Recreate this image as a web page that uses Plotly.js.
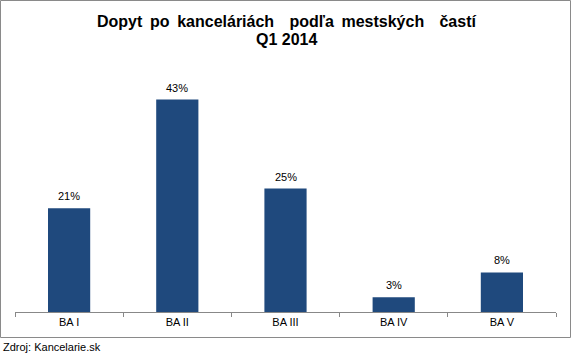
<!DOCTYPE html>
<html>
<head>
<meta charset="utf-8">
<script src="https://cdn.plot.ly/plotly-3.0.1.min.js"></script>
<style>html,body{margin:0;padding:0;background:#fff;}#chart{width:572px;height:354px;}</style>
</head>
<body>
<div id="chart"></div>
<script>
const categories = ["BA I", "BA II", "BA III", "BA IV", "BA V"];
const values = [21, 43, 25, 3, 8];
const valueLabels = ["21%", "43%", "25%", "3%", "8%"];
const titleLines = ["Dopyt po kanceláriách  podľa mestských  častí", "Q1 2014"];
const sourceText = "Zdroj: Kancelarie.sk";

const W = 572, H = 354;
const m = {l: 15, r: 16, t: 65, b: 42};
const pw = W - m.l - m.r, ph = H - m.t - m.b;
const px = x => (x - m.l) / pw;
const py = y => (H - m.b - y) / ph;
const FONT = "Arial, Liberation Sans, sans-serif";

const trace = {
  type: "bar",
  x: categories,
  y: values,
  marker: {color: "#1F497D"},
  hoverinfo: "none"
};

const valueAnnotations = categories.map((c, i) => ({
  text: valueLabels[i], xref: "x", yref: "y",
  x: c, y: values[i], yshift: 12, xanchor: "center", yanchor: "middle",
  showarrow: false, font: {size: 11, family: FONT, color: "#000"}
}));

const titleAnnotations = titleLines.map((t, i) => ({
  text: "<b>" + (i === 0 ? t.replace(/ /g, " \u2009") : t) + "</b>",
  xref: "paper", yref: "paper",
  x: px(286), y: py(21 + i * 18.5), xanchor: "center", yanchor: "middle",
  showarrow: false, font: {size: 16, family: FONT, color: "#000"}
}));

const layout = {
  width: W, height: H,
  margin: m,
  paper_bgcolor: "#fff",
  plot_bgcolor: "#fff",
  showlegend: false,
  bargap: 0.61,
  font: {family: FONT, color: "#000"},
  xaxis: {
    showline: true, linecolor: "#888", linewidth: 1,
    ticks: "outside", ticklen: 4, tickcolor: "#888",
    tickson: "boundaries",
    tickfont: {size: 11, color: "#000"},
    showgrid: false, zeroline: false, fixedrange: true
  },
  yaxis: {
    range: [0, 50], visible: false, showgrid: false, zeroline: false, fixedrange: true
  },
  shapes: [{
    type: "rect", xref: "paper", yref: "paper",
    x0: px(0.5), x1: px(570.5), y0: py(337.5), y1: py(0.5),
    line: {color: "#8a8a8a", width: 1}
  }],
  annotations: titleAnnotations.concat(valueAnnotations, [{
    text: sourceText, xref: "paper", yref: "paper",
    x: px(1), y: py(347), xanchor: "left", yanchor: "middle",
    showarrow: false, font: {size: 11, color: "#000"}
  }])
};

Plotly.newPlot("chart", [trace], layout, {displayModeBar: false, staticPlot: true});
</script>
</body>
</html>
